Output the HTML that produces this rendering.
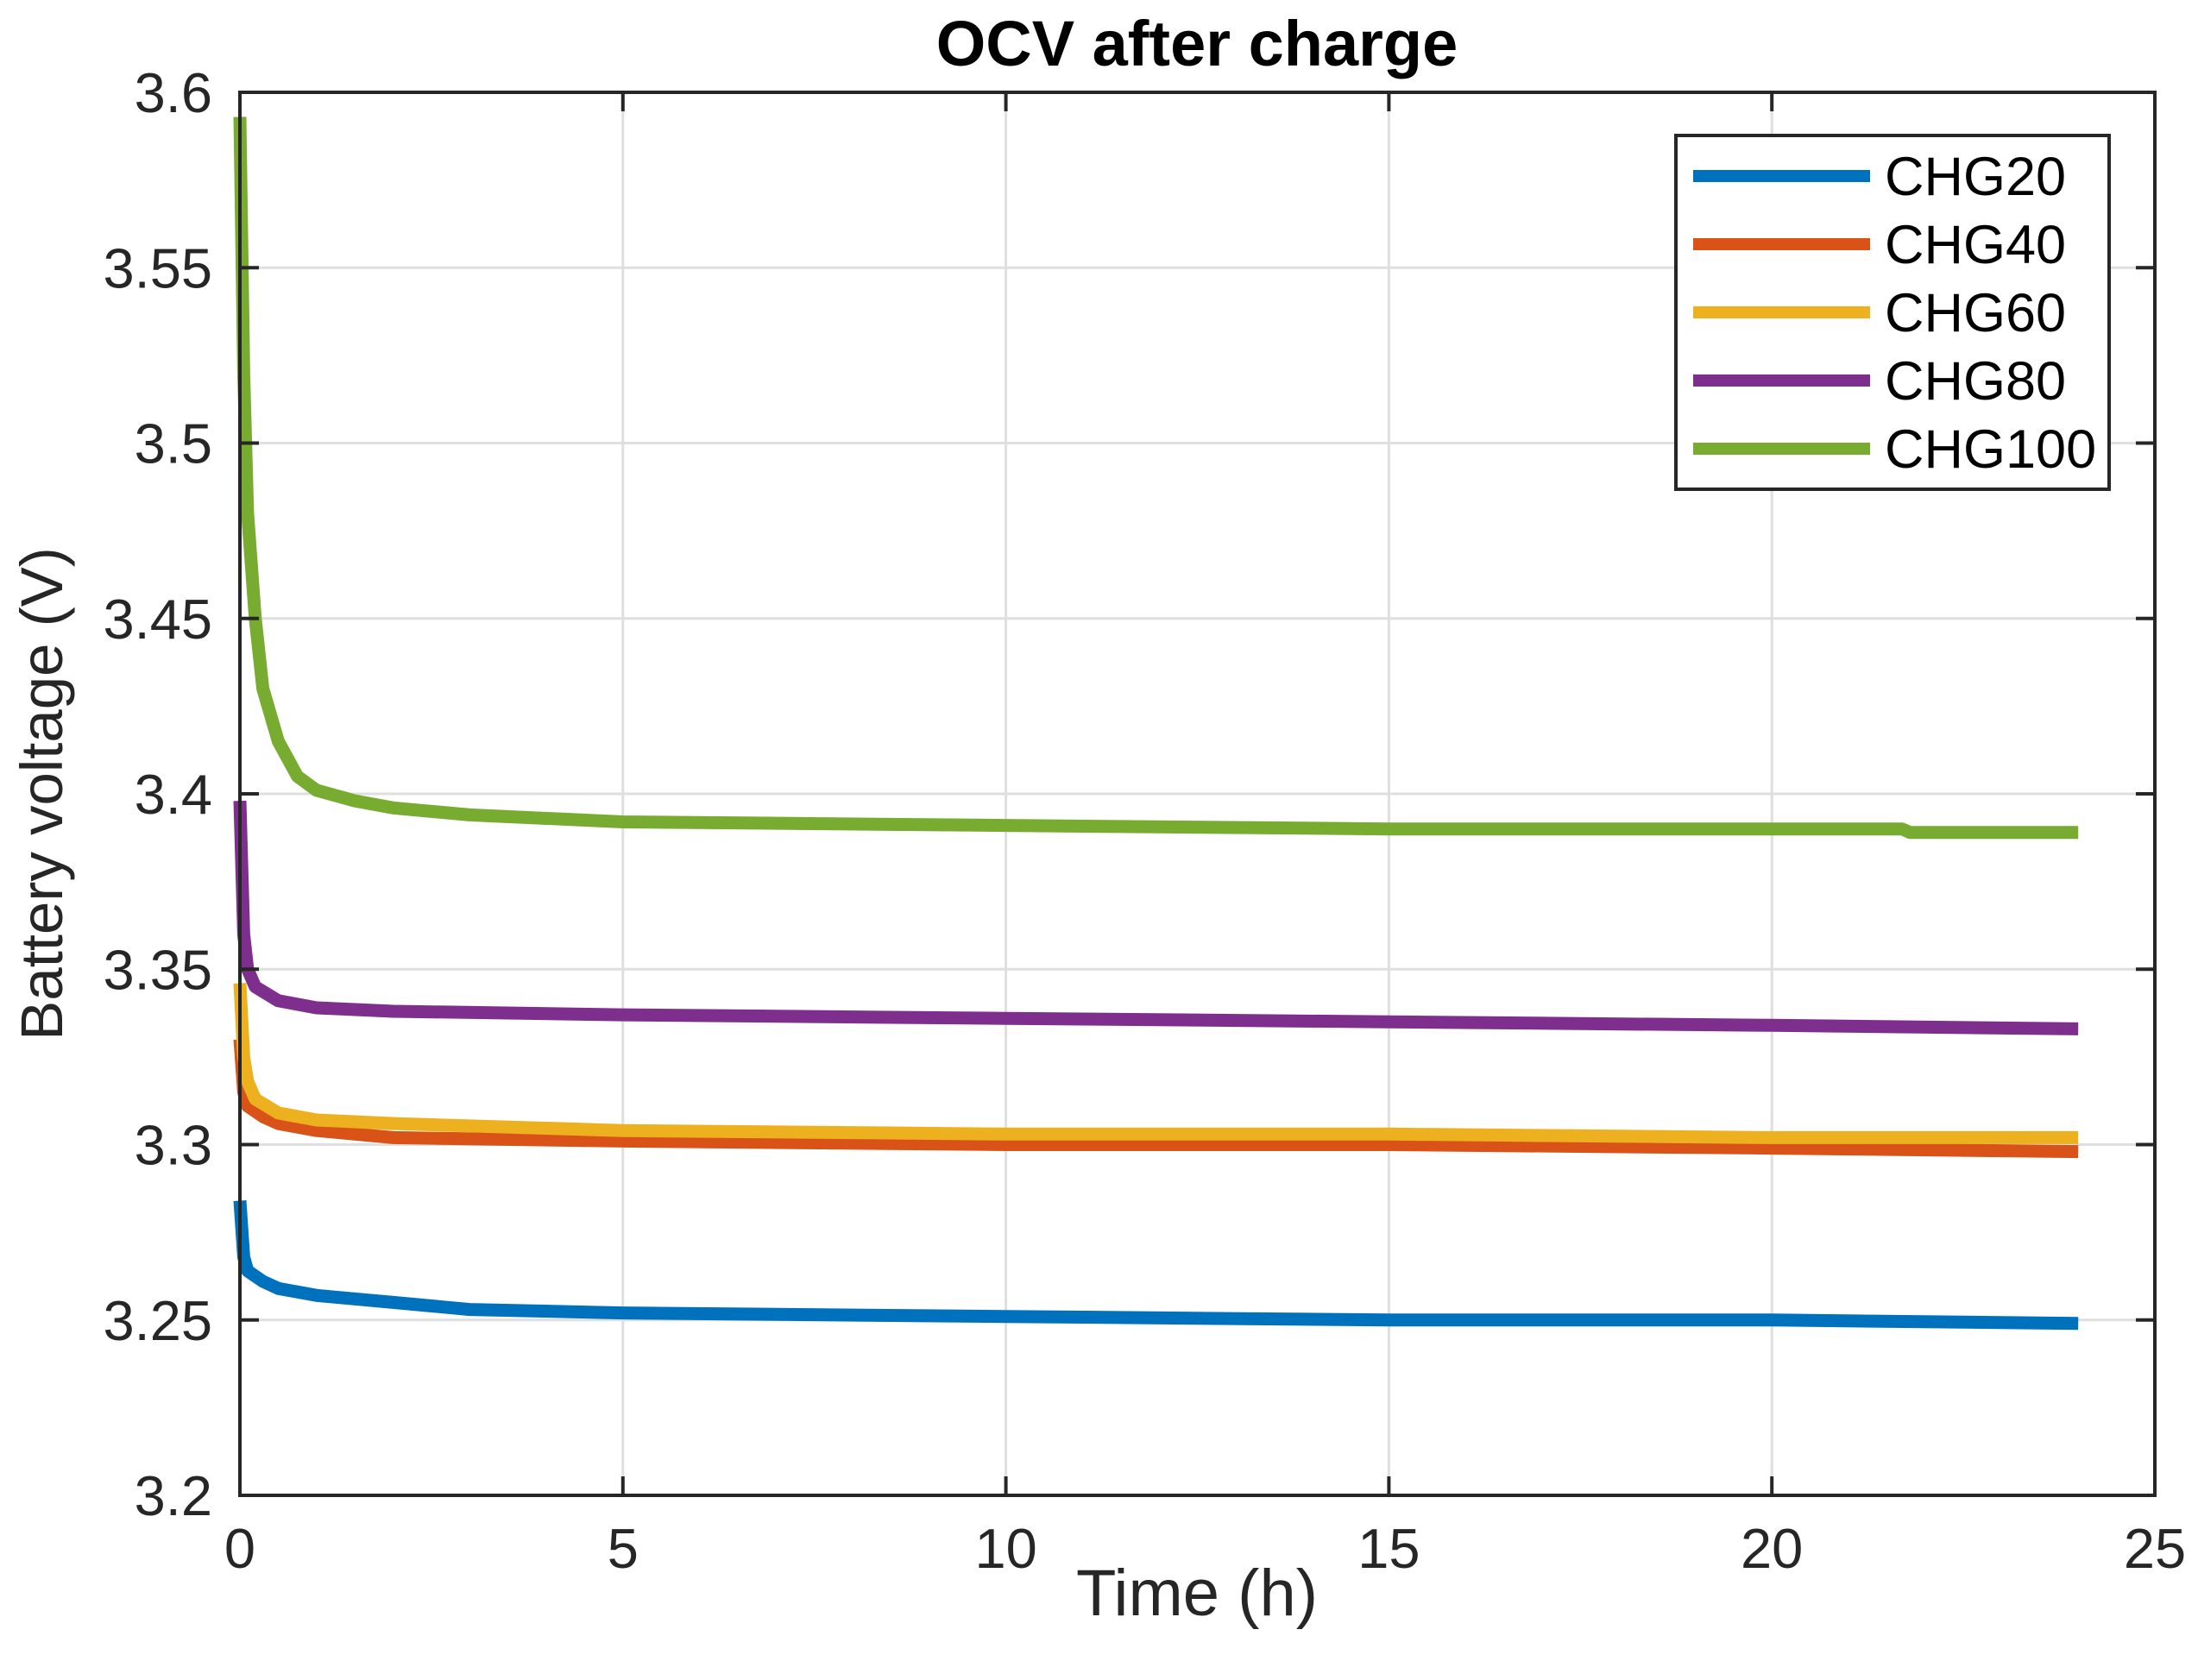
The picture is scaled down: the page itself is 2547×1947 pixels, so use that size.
<!DOCTYPE html>
<html><head><meta charset="utf-8"><style>
html,body{margin:0;padding:0;background:#fff;}
svg{display:block;font-family:"Liberation Sans",Arial,sans-serif;}
</style></head><body>
<svg id="chart" width="2547" height="1947" viewBox="0 0 2547 1947" xmlns="http://www.w3.org/2000/svg">
<g id="grid"></g>
<g id="series"></g>
<g id="axes"></g>
<text x="1387" y="76" text-anchor="middle" font-size="74" font-weight="bold" fill="#000">OCV after charge</text>
<text x="1387" y="1872" text-anchor="middle" font-size="76" fill="#262626">Time (h)</text>
<text transform="translate(72,920) rotate(-90)" text-anchor="middle" font-size="69" fill="#262626">Battery voltage (V)</text>
<g id="legend"></g>
</svg>
<script>
const xTicks=[0,5,10,15,20,25];
const yTicks=[3.2,3.25,3.3,3.35,3.4,3.45,3.5,3.55,3.6];
const yTickLabels=["3.2","3.25","3.3","3.35","3.4","3.45","3.5","3.55","3.6"];
const seriesNames=["CHG20","CHG40","CHG60","CHG80","CHG100"];
const seriesColors=["#0072BD","#D95319","#EDB120","#7E2F8E","#77AC30"];
const t20=[0,0.05,0.1,0.3,0.5,1,2,3,5,10,15,20,24];
const v20=[3.284,3.268,3.264,3.261,3.259,3.257,3.255,3.253,3.252,3.251,3.250,3.250,3.249];
const t40=[0,0.05,0.1,0.3,0.5,1,2,5,10,15,20,24];
const v40=[3.330,3.315,3.311,3.308,3.306,3.304,3.302,3.301,3.300,3.300,3.299,3.298];
const t60=[0,0.05,0.1,0.2,0.5,1,2,5,10,15,20,24];
const v60=[3.346,3.325,3.318,3.313,3.309,3.307,3.306,3.304,3.303,3.303,3.302,3.302];
const t80=[0,0.05,0.1,0.2,0.5,1,2,5,10,15,20,24];
const v80=[3.398,3.360,3.350,3.345,3.341,3.339,3.338,3.337,3.336,3.335,3.334,3.333];
const t100=[0,0.05,0.1,0.2,0.3,0.5,0.75,1,1.5,2,3,5,10,15,20,21.7,21.8,24];
const v100=[3.593,3.520,3.480,3.450,3.430,3.415,3.405,3.401,3.398,3.396,3.394,3.392,3.391,3.390,3.390,3.390,3.389,3.389];

const X0=278,X1=2497,Y0=1733,Y1=107;
const xs=t=>X0+(t-0)/(25-0)*(X1-X0);
const ys=v=>Y0-(v-3.2)/(3.6-3.2)*(Y0-Y1);
const NS="http://www.w3.org/2000/svg";
function mk(tag,attrs,parent){const e=document.createElementNS(NS,tag);for(const k in attrs)e.setAttribute(k,attrs[k]);parent.appendChild(e);return e;}
const grid=document.getElementById('grid'),axes=document.getElementById('axes'),ser=document.getElementById('series'),leg=document.getElementById('legend');

xTicks.forEach((t,i)=>{
  const x=xs(t);
  if(i>0&&i<xTicks.length-1){const g=mk('line',{x1:x,x2:x,y1:Y1,y2:Y0,stroke:'#dfdfdf','stroke-width':3},grid);
  
  }
  const a=mk('line',{x1:x,x2:x,y1:Y0,y2:Y0-22,stroke:'#262626','stroke-width':4},axes);
  
  
  const b=mk('line',{x1:x,x2:x,y1:Y1,y2:Y1+22,stroke:'#262626','stroke-width':4},axes);
  
  
  const tx=mk('text',{x:x,y:Y0+84,'text-anchor':'middle','font-size':65,fill:'#262626'},axes);
  tx.textContent=String(t);
  
  
});
yTicks.forEach((v,i)=>{
  const y=ys(v);
  if(i>0&&i<yTicks.length-1){const g=mk('line',{x1:X0,x2:X1,y1:y,y2:y,stroke:'#dfdfdf','stroke-width':3},grid);
  
  }
  const a=mk('line',{x1:X0,x2:X0+22,y1:y,y2:y,stroke:'#262626','stroke-width':4},axes);
  
  
  const b=mk('line',{x1:X1,x2:X1-22,y1:y,y2:y,stroke:'#262626','stroke-width':4},axes);
  
  
  const tx=mk('text',{x:X0-32,y:y+23,'text-anchor':'end','font-size':65,fill:'#262626'},axes);
  tx.textContent=yTickLabels[i];
  
  
});
const frame=mk('rect',{x:X0,y:Y1,width:X1-X0,height:Y0-Y1,fill:'none',stroke:'#262626','stroke-width':4},axes);



const allT=[t20,t40,t60,t80,t100],allV=[v20,v40,v60,v80,v100];
allT.forEach((T,s)=>{
  const d=T.map((t,i)=>(i?'L':'M')+xs(t).toFixed(1)+','+ys(allV[s][i]).toFixed(1)).join(' ');
  const p=mk('path',{d:d,fill:'none',stroke:seriesColors[s],'stroke-width':15,'stroke-linejoin':'round'},ser);
  
  
});

const lb=mk('rect',{x:1942,y:157,width:502,height:410,fill:'#fff',stroke:'#262626','stroke-width':4},leg);


seriesNames.forEach((n,i)=>{
  const y=204+i*79;
  const l=mk('line',{x1:1962,x2:2167,y1:y,y2:y,stroke:seriesColors[i],'stroke-width':14},leg);
  
  
  const t=mk('text',{x:2184,y:y+22,'font-size':63,fill:'#000'},leg);
  t.textContent=n;
  
  
});
</script>
</body></html>
